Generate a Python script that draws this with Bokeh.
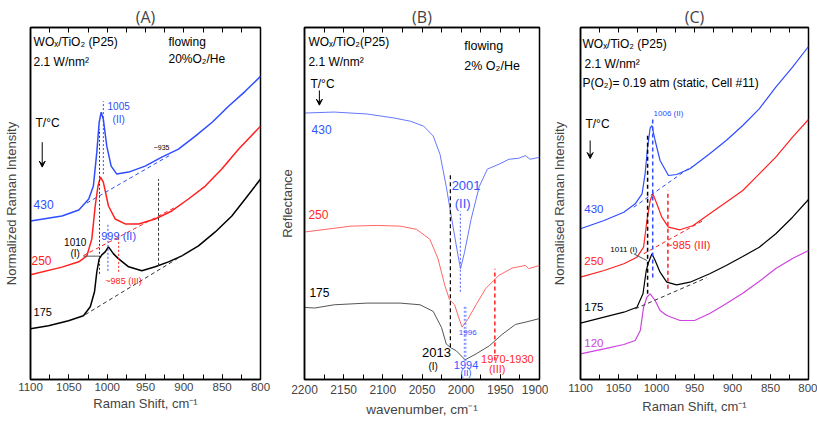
from bokeh.plotting import figure
from bokeh.models import (Range1d, LinearAxis, SingleIntervalTicker, FixedTicker, Label, Arrow, VeeHead)
from bokeh.layouts import row
from bokeh.embed import file_html
from bokeh.resources import INLINE

# ---------------- data: panel A (Raman, flowing 20% O2/He) ----------------
A_blue_w = [1100, 1059, 1037, 1024, 1018, 1013.5, 1010.4, 1007.8, 1005, 1000.5, 994.8, 987.4, 972, 950.5, 928.7, 907, 885, 863, 841.7, 820, 800]
A_blue_I = [159, 164, 170, 181, 194, 228, 258, 268, 261, 234, 214, 206, 208, 214, 223, 231, 244, 258, 274, 289, 304]
A_red_w = [1100, 1059, 1037, 1026.5, 1020, 1015.6, 1012, 1008.7, 1005, 998.3, 989.6, 976.5, 959, 937.4, 915.7, 894, 872, 850.5, 828.7, 800]
A_red_I = [105, 112.7, 118, 124, 141, 174, 194, 203, 198, 174, 161, 156, 156, 161, 169, 181, 194, 211, 231, 254]
A_black_w = [1100, 1076.5, 1050.4, 1031, 1022, 1016.5, 1013.5, 1010.4, 1007, 1002.6, 998.3, 991.7, 985, 972, 954.8, 937.4, 920, 902.6, 880.9, 859, 837.4, 820, 800]
A_black_I = [51, 54, 59, 64, 73, 88, 108, 121, 125, 128, 133, 126, 121, 113, 109, 113, 118, 124, 134, 148, 164, 181, 201]
A_base_w = [[1026.5, 915.7], [1030.9, 911.3], [1028.7, 898.2]]
A_base_I = [[177, 226], [124.3, 172.7], [65, 126]]
A_mark_w = [1005, 1010, 999, 985, 933]
A_mark_lo = [206, 106, 109, 108, 114]
A_mark_hi = [279, 251, 156, 148, 201]

# ---------------- data: panel B (DRIFTS reflectance, 2% O2/He) ----------------
B_blue_w = [2200, 2162, 2120, 2086, 2065, 2048, 2035.7, 2027, 2019, 2010.5, 2004, 2000.8, 1995.8, 1987.4, 1977, 1966.5, 1951.7, 1939, 1926.6, 1918, 1912, 1900]
B_blue_I = [271, 272, 270, 266, 262.7, 257.7, 247.7, 229, 196, 156, 126, 112.7, 129, 162.7, 196, 214, 219, 224, 225, 227.7, 224, 226]
B_red_w = [2200, 2170, 2140.8, 2107, 2078, 2057, 2040, 2029.5, 2021, 2014.8, 2008.4, 2003, 1998.8, 1991.7, 1981, 1968.5, 1951.7, 1935, 1918, 1914, 1900]
B_red_I = [150, 153, 156, 156.7, 156, 152.7, 142.7, 122.7, 96, 81, 76, 62.7, 53.3, 61, 76, 92.7, 106, 113.3, 116, 112.7, 116]
B_black_w = [2200, 2187, 2162, 2120, 2078, 2052.5, 2035.7, 2025, 2019, 2012.6, 2006.3, 1995, 1981, 1964, 1947.5, 1930.7, 1916, 1900]
B_black_I = [73.3, 72.7, 76, 77.7, 77.7, 76, 69.3, 52.7, 36, 32, 29.3, 20, 26, 34.3, 46, 56, 58.7, 62]
B_mark_w = [2013.8, 2001, 1996, 1994, 1957]
B_mark_lo = [32.7, 89.3, 19, 19, 19.3]
B_mark_hi = [209.3, 171, 76, 76, 112.7]

# ---------------- data: panel C (Raman, static O2) ----------------
C_blue_w = [1100, 1069, 1043, 1028, 1019, 1015, 1011.7, 1008.3, 1006, 1001.8, 995.3, 984.3, 973.5, 956, 930, 908.3, 886.5, 864.8, 843, 821, 800]
C_blue_I = [150.7, 159, 167.3, 175.7, 185.7, 205.7, 232.3, 251.7, 254, 239, 219, 204, 205, 210.7, 225.7, 239, 254, 270.7, 292.3, 312.3, 333]
C_red_w = [1100, 1069, 1043, 1025.7, 1017, 1012.6, 1008.3, 1004.8, 999.6, 993, 984.3, 969, 951.7, 930, 908.3, 886.5, 864.8, 843, 821, 800]
C_red_I = [102.3, 109, 115.7, 122.3, 132.3, 159, 179, 185.7, 175.7, 162.3, 152.3, 149.7, 154, 165.7, 177.3, 189, 205.7, 222.3, 242.3, 260]
C_black_w = [1100, 1069, 1043, 1025.7, 1017.8, 1013.5, 1010.4, 1006, 1001.8, 995.3, 986.5, 973.5, 956, 930, 908.3, 886.5, 864.8, 843, 821, 800]
C_black_I = [56.3, 62.3, 67.3, 72.3, 85.7, 109, 117.3, 125.7, 119, 107.3, 97.3, 94.7, 97.3, 105.7, 114, 123, 132.3, 145.7, 162.3, 180]
C_mag_w = [1100, 1069, 1043, 1028, 1021.3, 1017, 1012.6, 1008.3, 1001.8, 995.3, 986.5, 969, 950, 930, 908, 887, 865, 843, 821, 800]
C_mag_I = [25.7, 30.7, 35, 39, 49, 72.3, 82.3, 85.7, 79, 69, 64, 59, 59, 66, 76, 86, 98, 111, 121, 129]
C_base_w = [[1030, 954], [1017, 938.6], [1028, 934.3]]
C_base_I = [[172.3, 213], [125.7, 159], [70.7, 101.7]]
C_mark_w = [1005, 1011.7, 985]
C_mark_lo = [102, 85.7, 90.7]
C_mark_hi = [262, 244, 189]

# tick positions along the top frame edge (every 25 cm-1, no labels)
RAMAN_TOP_TICKS = [800, 825, 850, 875, 900, 925, 950, 975, 1000, 1025, 1050, 1075, 1100]
IR_TOP_TICKS = [1900, 1925, 1950, 1975, 2000, 2025, 2050, 2075, 2100, 2125, 2150, 2175, 2200]

FONT = "Liberation Sans"
BLUE, RED, MAG = "#2f4cff", "#ff2020", "#cc44dd"
BBLUE, BRED, BGREY = "#6677ff", "#ff6666", "#555555"


def make_fig(width, xr, yr, top_ticks, title, xlabel, ylabel, bl, br, bb, tick_fs, lab_fs, tick_sd, lab_sd,
             title_off, ylab_sd):
    p = figure(width=width, height=424, x_range=Range1d(*xr), y_range=Range1d(*yr),
               output_backend="svg", toolbar_location=None,
               min_border_left=bl, min_border_right=br, min_border_top=27, min_border_bottom=bb)
    p.xgrid.visible = False
    p.ygrid.visible = False
    p.outline_line_color = "black"
    p.outline_line_width = 1.5
    p.background_fill_color = "white"
    p.border_fill_color = "white"
    p.title.text = title
    p.title.align = "center"
    p.title.text_font = "Open Sans"
    p.title.text_font_size = "16px"
    p.title.text_font_style = "normal"
    p.title.standoff = 0
    p.title.offset = title_off
    ax = p.xaxis[0]
    ax.ticker = SingleIntervalTicker(interval=50, num_minor_ticks=2)
    ax.axis_label = xlabel
    ax.axis_label_text_font = FONT
    ax.axis_label_text_font_size = lab_fs
    ax.axis_label_text_font_style = "normal"
    ax.axis_label_standoff = lab_sd
    ax.major_label_text_font = FONT
    ax.major_label_text_font_size = tick_fs
    ax.major_label_standoff = tick_sd
    ax.major_tick_in, ax.major_tick_out = 5, 0
    ax.minor_tick_in, ax.minor_tick_out = 5, 0
    ax.axis_line_width = 1.5
    top = LinearAxis(ticker=FixedTicker(ticks=[], minor_ticks=top_ticks),
                     major_label_standoff=0, major_tick_in=0, major_tick_out=0,
                     minor_tick_in=5, minor_tick_out=0, axis_line_width=1.5)
    p.add_layout(top, "above")
    ay = p.yaxis[0]
    ay.ticker = FixedTicker(ticks=[])
    ay.axis_label = ylabel
    ay.axis_label_text_font = FONT
    ay.axis_label_text_font_size = "13px"
    ay.axis_label_text_font_style = "normal"
    ay.axis_label_standoff = ylab_sd
    ay.major_tick_out = 0
    ay.major_label_standoff = 0
    ay.axis_line_width = 1.5
    return p


def txt(p, x, y, s, color="black", size="11px", align="left"):
    p.add_layout(Label(x=x, y=y, text=s, text_color=color, text_font=FONT, text_font_size=size,
                       text_align=align, text_baseline="middle"))


def arrow(p, x, y0, y1):
    p.add_layout(Arrow(end=VeeHead(size=6, line_color="black", fill_color="black"),
                       x_start=x, y_start=y0, x_end=x, y_end=y1, line_width=1))


# ---------------- panel A ----------------
pA = make_fig(276, (1100, 800), (0, 353), RAMAN_TOP_TICKS, "(A)", "Raman Shift, cm\u207b\u00b9",
              "Normalized Raman Intensity", 30, 16, 43, "11.5px", "13px", 3, 2, 0, 12)
for w, I, c in [(A_blue_w, A_blue_I, BLUE), (A_red_w, A_red_I, RED), (A_black_w, A_black_I, "black")]:
    pA.line(w, I, line_color=c, line_width=1.5)
for (w, I), c in zip(zip(A_base_w, A_base_I), [BLUE, RED, "#333333"]):
    pA.line(w, I, line_color=c, line_width=1, line_dash="4 3")
for w, lo, hi, c, d in zip(A_mark_w, A_mark_lo, A_mark_hi, [BLUE, "#333333", BLUE, RED, "#333333"],
                           ["2 2", "2 2", "2 2", "2 2", "3 2"]):
    pA.segment(x0=[w], y0=[lo], x1=[w], y1=[hi], line_color=c, line_width=1, line_dash=d)
pA.segment(x0=[1031], y0=[123.7], x1=[1010.4], y1=[123.7], line_color="#555555", line_width=1)
txt(pA, 1096, 338, "WO\u2093/TiO\u2082 (P25)", size="12px")
txt(pA, 1096, 318, "2.1 W/nm\u00b2", size="12px")
txt(pA, 920, 338, "flowing", size="12px")
txt(pA, 920, 321, "20%O\u2082/He", size="12px")
txt(pA, 1093.5, 257, "T/\u00b0C", size="12px")
arrow(pA, 1084.7, 238, 213)
txt(pA, 985, 274, "1005", BLUE, "10px", "center")
txt(pA, 985, 261, "(II)", BLUE, "10px", "center")
txt(pA, 929, 233, "~935", "black", "7px", "center")
txt(pA, 1096, 175, "430", BLUE, "12px")
txt(pA, 985, 144, "999 (II)", BLUE, "11px", "center")
txt(pA, 1041.7, 138, "1010", "black", "10px", "center")
txt(pA, 1041.7, 126, "(I)", "black", "10px", "center")
txt(pA, 1098.7, 119, "250", RED, "12px")
txt(pA, 978.7, 99, "~985 (III)", RED, "9px", "center")
txt(pA, 1096, 68, "175", "black", "11px")

# ---------------- panel B ----------------
pB = make_fig(272, (2200, 1900), (0, 358), IR_TOP_TICKS, "(B)", "wavenumber, cm\u207b\u00b9", "Reflectance",
              25, 9, 38, "12px", "13.5px", 5, 5, -8, 10)
for w, I, c in [(B_blue_w, B_blue_I, BBLUE), (B_red_w, B_red_I, BRED), (B_black_w, B_black_I, BGREY)]:
    pB.line(w, I, line_color=c, line_width=1)
for w, lo, hi, c, d, lw in zip(B_mark_w, B_mark_lo, B_mark_hi, ["black", BBLUE, BBLUE, BBLUE, RED],
                               ["4 3", "2 2", "2 2", "2 2", "4 3"], [1.2, 1.2, 1, 1, 1.5]):
    pB.segment(x0=[w], y0=[lo], x1=[w], y1=[hi], line_color=c, line_width=lw, line_dash=d)
txt(pB, 2195, 343, "WO\u2093/TiO\u2082(P25)", size="12px")
txt(pB, 2195, 323, "2.1 W/nm\u00b2", size="12px")
txt(pB, 2192.4, 301, "T/\u00b0C", size="12px")
arrow(pB, 2181, 294, 279)
txt(pB, 1996, 339, "flowing", size="12.5px")
txt(pB, 1996, 319, "2% O\u2082/He", size="12.5px")
txt(pB, 2191, 254, "430", "#3355ff", "12px")
txt(pB, 1993.7, 197.7, "2001", "#3355ff", "13px", "center")
txt(pB, 1998, 179, "(II)", "#3355ff", "13px", "center")
txt(pB, 2195, 168, "250", "#ff2a2a", "12px")
txt(pB, 2193.7, 88, "175", "black", "12px")
txt(pB, 1991.6, 47.7, "1996", "#3355ff", "8px", "center")
txt(pB, 2031.5, 27.7, "2013", "black", "13px", "center")
txt(pB, 2035.8, 13.3, "(I)", "black", "10px", "center")
txt(pB, 1993.7, 15, "1994", "#3355ff", "11px", "center")
txt(pB, 1993.7, 7, "(II)", "#3355ff", "9px", "center")
txt(pB, 1941, 21, "1970-1930", "#ff2a2a", "11px", "center")
txt(pB, 1954, 10.3, "(III)", "#ff2a2a", "11px", "center")

# ---------------- panel C ----------------
pC = make_fig(269, (1100, 800), (0, 352), RAMAN_TOP_TICKS, "(C)", "Raman Shift, cm\u207b\u00b9",
              "Normalised Raman Intensity", 30, 9, 45, "11.5px", "13px", 4, 4, -16, 14)
for w, I, c in [(C_blue_w, C_blue_I, BLUE), (C_red_w, C_red_I, RED), (C_black_w, C_black_I, "black"),
                (C_mag_w, C_mag_I, MAG)]:
    pC.line(w, I, line_color=c, line_width=1.2)
for (w, I), c in zip(zip(C_base_w, C_base_I), [BLUE, RED, "#333333"]):
    pC.line(w, I, line_color=c, line_width=1, line_dash="4 3")
for w, lo, hi, c in zip(C_mark_w, C_mark_lo, C_mark_hi, [BLUE, "black", RED]):
    pC.segment(x0=[w], y0=[lo], x1=[w], y1=[hi], line_color=c, line_width=1.5, line_dash="4 3")
pC.segment(x0=[1030], y0=[125.7], x1=[1012.6], y1=[119], line_color="#555555", line_width=1)
txt(pC, 1097.4, 336, "WO\u2093/TiO\u2082 (P25)", size="12px")
txt(pC, 1094.8, 316, "2.1 W/nm\u00b2", size="12px")
txt(pC, 1097.4, 297, "P(O\u2082)= 0.19 atm (static, Cell #11)", size="12px")
txt(pC, 1093.5, 255.7, "T/\u00b0C", size="12px")
arrow(pC, 1087.3, 239, 221)
txt(pC, 984.3, 265.7, "1006 (II)", BLUE, "8px", "center")
txt(pC, 1095, 170.7, "430", BLUE, "11.5px")
txt(pC, 958.2, 135, "~985 (III)", RED, "11px", "center")
txt(pC, 1095, 119, "250", RED, "11.5px")
txt(pC, 1043, 129.7, "1011 (I)", "black", "8px", "center")
txt(pC, 1095, 72.3, "175", "black", "11.5px")
txt(pC, 1095, 36.3, "120", MAG, "11.5px")

layout = row(pA, pB, pC)
open("out.html", "w").write(file_html(layout, INLINE))
